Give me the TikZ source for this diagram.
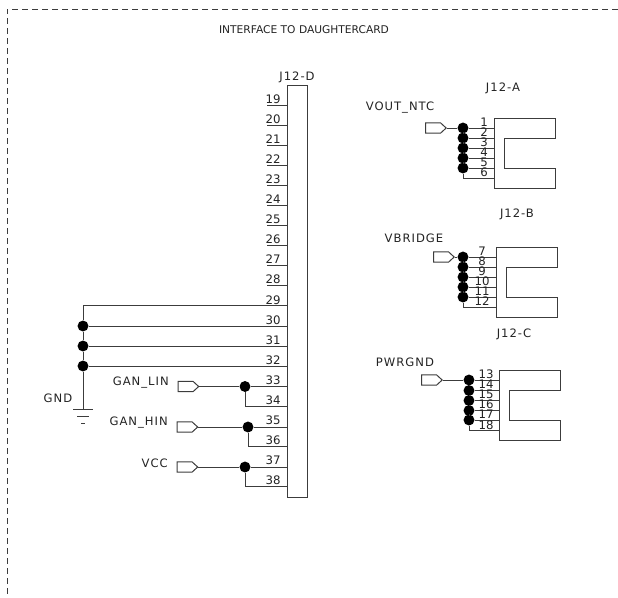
\documentclass[tikz,border=0pt]{standalone}
\usepackage{fontspec}
\setmainfont{DejaVu Sans}
\newfontfamily\lblfont[LetterSpace=8.6]{DejaVu Sans}
\usetikzlibrary{positioning,shapes.symbols}
\definecolor{wiregray}{RGB}{60,60,60}
\definecolor{textgray}{RGB}{35,35,35}
\tikzset{
  wire/.style={draw=wiregray, line width=0.75pt},
  framedash/.style={draw=wiregray, line width=0.75pt, dash pattern=on 4.5pt off 3pt},
  dot/.style={circle, inner sep=0pt, minimum size=8.2pt, fill=black},
  port/.style={signal, signal to=east, signal pointer angle=85, draw=wiregray, line width=0.75pt, fill=white,
    inner sep=0pt, minimum width=15.5pt, minimum height=7.8pt},
  lbl/.style={font=\lblfont\fontsize{8.7}{10}\selectfont, text=textgray, inner sep=0pt},
  titlelbl/.style={font=\fontsize{8}{10}\selectfont, text=textgray, inner sep=0pt},
  pinnum/.style={font=\fontsize{8.8}{9}\selectfont, text=textgray, inner sep=0pt}
}

\begin{document}
\begin{tikzpicture}[x=0.75pt, y=-0.75pt]
\useasboundingbox (0,0) rectangle (618,597);

% --- Outer frame and title ---
\coordinate (framer) at (618,9);
\coordinate (framec) at (7,9);
\coordinate (frameb) at (7,597);
\draw[framedash] (framer) -- (framec) -- (frameb);
\node[titlelbl] (title) at (304,30) {INTERFACE TO DAUGHTERCARD};

% --- J12-D, long connector ---
\node[wire, rectangle, inner sep=0pt, minimum width=15pt, minimum height=309pt] (jd) at (297,291) {};
\node[lbl] (jdname) at (297,77) {J12-D};
\foreach \n [evaluate=\n as \y using {105+20.1*(\n-19)}] in {19,...,38} {
  \coordinate (p\n) at (267,\y);
  \node[pinnum, anchor=base] (n\n) at (273,\y-2) {\n};
}
\foreach \n in {19,...,28} {
  \draw[wire] (p\n) -- (p\n -| jd.west);
}

% --- GND bus ---
\node[dot] (g30) at (83,326) {};
\node[dot] (g31) at (83,346) {};
\node[dot] (g32) at (83,366) {};
\coordinate (gtop) at (83,305.7);
\coordinate (gnd) at (83,409);
\draw[wire] (jd.west |- gtop) -- (gtop) -- (g30) -- (g31) -- (g32) -- (gnd);
\draw[wire] (g30) -- (g30 -| jd.west);
\draw[wire] (g31) -- (g31 -| jd.west);
\draw[wire] (g32) -- (g32 -| jd.west);
\draw[wire] (73,409) -- (93,409);
\draw[wire] (77,416) -- (89,416);
\draw[wire] (81,423) -- (85,423);
\node[lbl] (gndname) at (58,398) {GND};

% --- Gate inputs and VCC ---
\node[port] (lin) at (185.5,386.5) {};
\node[port] (hin) at (184.5,427) {};
\node[port] (vcc) at (184.5,467) {};
\node[lbl, anchor=east] (linname) at (169,383) {GAN\_LIN};
\node[lbl, anchor=east] (hinname) at (168,423) {GAN\_HIN};
\node[lbl, anchor=east] (vccname) at (168,463) {VCC};
\node[dot] (j33) at (245,386.5) {};
\node[dot] (j35) at (248,427) {};
\node[dot] (j37) at (245,467) {};
\draw[wire] (lin.east) -- (j33) -- (j33 -| jd.west);
\draw[wire] (j33) |- (p34 -| jd.west);
\draw[wire] (hin.east) -- (j35) -- (j35 -| jd.west);
\draw[wire] (j35) |- (p36 -| jd.west);
\draw[wire] (vcc.east) -- (j37) -- (j37 -| jd.west);
\draw[wire] (j37) |- (p38 -| jd.west);

% --- J12-A ---
\coordinate (ba) at (494,118);
\draw[wire] (ba) -- (555,118) -- (555,138) -- (504,138) -- (504,168) -- (555,168) -- (555,188) -- (494,188) -- cycle;
\node[port] (vout) at (433,128) {};
\node[lbl] (voutname) at (400,108) {VOUT\_NTC};
\node[lbl] (janame) at (503,88) {J12-A};
\foreach \n/\y in {1/128,2/138,3/148,4/158,5/168} {
  \node[dot] (a\n) at (463,\y) {};
  \draw[wire] (a\n) -- (a\n -| ba);
  \node[pinnum, anchor=base] (na\n) at (484,\y-2) {\n};
}
\coordinate (a6) at (463,178);
\node[pinnum, anchor=base] (na6) at (484,176) {6};
\draw[wire] (vout.east) -- (a1) -- (a2) -- (a3) -- (a4) -- (a5) -- (a6) -- (a6 -| ba);

% --- J12-B ---
\coordinate (bb) at (496,247);
\draw[wire] (bb) -- (557,247) -- (557,267) -- (506,267) -- (506,297) -- (557,297) -- (557,317) -- (496,317) -- cycle;
\node[port] (vbr) at (441,257) {};
\node[lbl] (vbrname) at (414,238) {VBRIDGE};
\node[lbl] (jbname) at (517,214) {J12-B};
\foreach \n/\m/\y in {1/7/257,2/8/267,3/9/277,4/10/287,5/11/297} {
  \node[dot] (b\n) at (463,\y) {};
  \draw[wire] (b\n) -- (b\n -| bb);
  \node[pinnum, anchor=base] (nb\n) at (482,\y-2) {\m};
}
\coordinate (b6) at (463,307);
\node[pinnum, anchor=base] (nb6) at (482,305) {12};
\draw[wire] (vbr.east) -- (b1) -- (b2) -- (b3) -- (b4) -- (b5) -- (b6) -- (b6 -| bb);

% --- J12-C ---
\coordinate (bc) at (499,370);
\draw[wire] (bc) -- (560,370) -- (560,390) -- (509,390) -- (509,420) -- (560,420) -- (560,440) -- (499,440) -- cycle;
\node[port] (pwr) at (429,380) {};
\node[lbl] (pwrname) at (405,362) {PWRGND};
\node[lbl] (jcname) at (514,334) {J12-C};
\foreach \n/\m/\y in {1/13/380,2/14/390.5,3/15/400.5,4/16/410.5,5/17/420} {
  \node[dot] (c\n) at (469,\y) {};
  \draw[wire] (c\n) -- (c\n -| bc);
  \node[pinnum, anchor=base] (nc\n) at (486,\y-2) {\m};
}
\coordinate (c6) at (469,430);
\node[pinnum, anchor=base] (nc6) at (486,429) {18};
\draw[wire] (pwr.east) -- (c1) -- (c2) -- (c3) -- (c4) -- (c5) -- (c6) -- (c6 -| bc);

\end{tikzpicture}
\end{document}
